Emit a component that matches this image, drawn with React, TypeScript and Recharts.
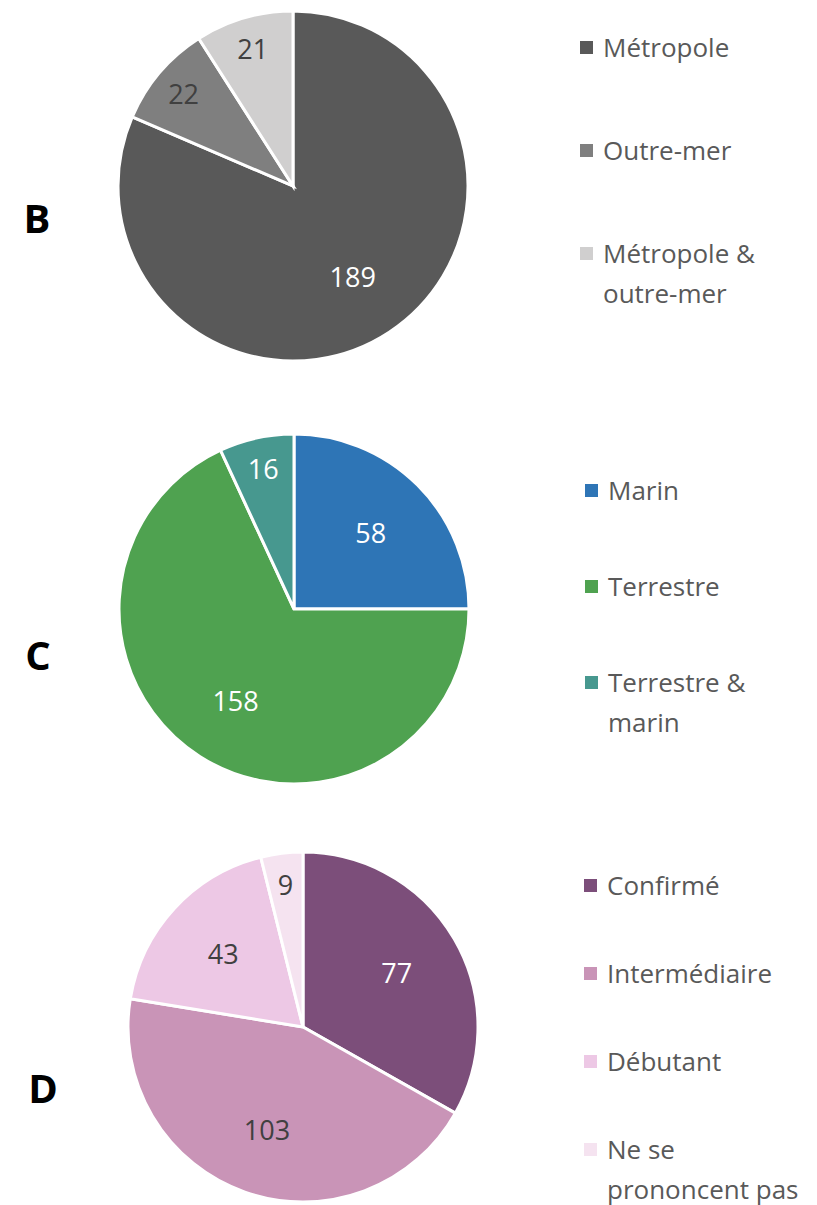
import React from "react";
import { PieChart, Pie, Cell, Legend } from "recharts";

// Panel B — localisation
const bNames = ["Métropole", "Outre-mer", "Métropole &\noutre-mer"];
const bValues = [189, 22, 21];

// Panel C — milieu
const cNames = ["Marin", "Terrestre", "Terrestre &\nmarin"];
const cValues = [58, 158, 16];

// Panel D — niveau
const dNames = ["Confirmé", "Intermédiaire", "Débutant", "Ne se\nprononcent pas"];
const dValues = [77, 103, 43, 9];

const FONT = "'Open Sans', 'Liberation Sans', sans-serif";
const RADIAN = Math.PI / 180;

interface PanelProps {
  letter: string;
  names: string[];
  values: number[];
  colors: string[];
  textColors: string[];
  top: number;
  height: number;
  cx: number;
  cy: number;
  letterX: number;
  letterY: number;
  legendX: number;
  legendTop: number;
  legendGap: number;
}

function makeLabel(textColors: string[]) {
  return (props: any) => {
    const { cx, cy, midAngle, outerRadius, percent, index, value } = props;
    const r = outerRadius * (percent < 0.12 ? 0.82 : 0.62);
    const x = cx + r * Math.cos(-midAngle * RADIAN);
    const y = cy + r * Math.sin(-midAngle * RADIAN);
    return (
      <text
        x={x} y={y} fill={textColors[index]}
        textAnchor="middle" dominantBaseline="central"
        fontSize={27} fontFamily={FONT}
      >
        {value}
      </text>
    );
  };
}

function Panel(p: PanelProps) {
  const data = p.names.map((name, i) => ({ name, value: p.values[i] }));

  const renderLegend = () => (
    <div style={{ position: "relative", width: 240, height: p.height }}>
      {p.names.map((name, i) => (
        <div
          key={name}
          style={{
            position: "absolute", left: 0, top: p.legendTop + i * p.legendGap,
            display: "flex", alignItems: "flex-start",
          }}
        >
          <span
            style={{
              width: 13, height: 13, background: p.colors[i],
              marginTop: 14, marginRight: 10, flex: "none",
            }}
          />
          <span
            style={{
              whiteSpace: "pre-line", fontFamily: FONT, fontSize: 26,
              lineHeight: "40px", color: "#595959",
            }}
          >
            {name}
          </span>
        </div>
      ))}
    </div>
  );

  return (
    <div style={{ position: "absolute", left: 0, top: p.top, width: 817, height: p.height }}>
      <PieChart width={817} height={p.height} margin={{ top: 0, right: 0, bottom: 0, left: 0 }}>
        <Pie
          data={data} dataKey="value" nameKey="name"
          cx={p.cx} cy={p.cy} outerRadius={175}
          startAngle={90} endAngle={-270}
          stroke="#ffffff" strokeWidth={3}
          label={makeLabel(p.textColors)} labelLine={false}
          isAnimationActive={false}
        >
          {data.map((d, i) => (
            <Cell key={d.name} fill={p.colors[i]} />
          ))}
        </Pie>
        <Legend
          content={renderLegend}
          wrapperStyle={{ position: "absolute", left: p.legendX, top: 0, width: 240, height: p.height }}
        />
      </PieChart>
      <div
        style={{
          position: "absolute", left: p.letterX, top: p.letterY,
          transform: "translate(-50%, -50%)", fontFamily: FONT,
          fontWeight: 700, fontSize: 40, lineHeight: 1, color: "#000",
        }}
      >
        {p.letter}
      </div>
    </div>
  );
}

export default function App() {
  return (
    <div style={{ position: "absolute", left: 0, top: 0, width: 817, height: 1205, background: "#fff" }}>
      <Panel
        letter="B" names={bNames} values={bValues}
        colors={["#595959", "#7f7f7f", "#d0cfcf"]}
        textColors={["#ffffff", "#404040", "#404040"]}
        top={0} height={380} cx={293} cy={186}
        letterX={37} letterY={218}
        legendX={580} legendTop={27} legendGap={103}
      />
      <Panel
        letter="C" names={cNames} values={cValues}
        colors={["#2e75b6", "#4fa250", "#47988f"]}
        textColors={["#ffffff", "#ffffff", "#ffffff"]}
        top={420} height={380} cx={294} cy={189}
        letterX={38} letterY={235}
        legendX={585} legendTop={50} legendGap={96}
      />
      <Panel
        letter="D" names={dNames} values={dValues}
        colors={["#7c4e7a", "#c994b7", "#edc8e5", "#f5e3f0"]}
        textColors={["#ffffff", "#404040", "#404040", "#404040"]}
        top={840} height={365} cx={303} cy={187}
        letterX={43} letterY={248}
        legendX={584} legendTop={25} legendGap={88}
      />
    </div>
  );
}
